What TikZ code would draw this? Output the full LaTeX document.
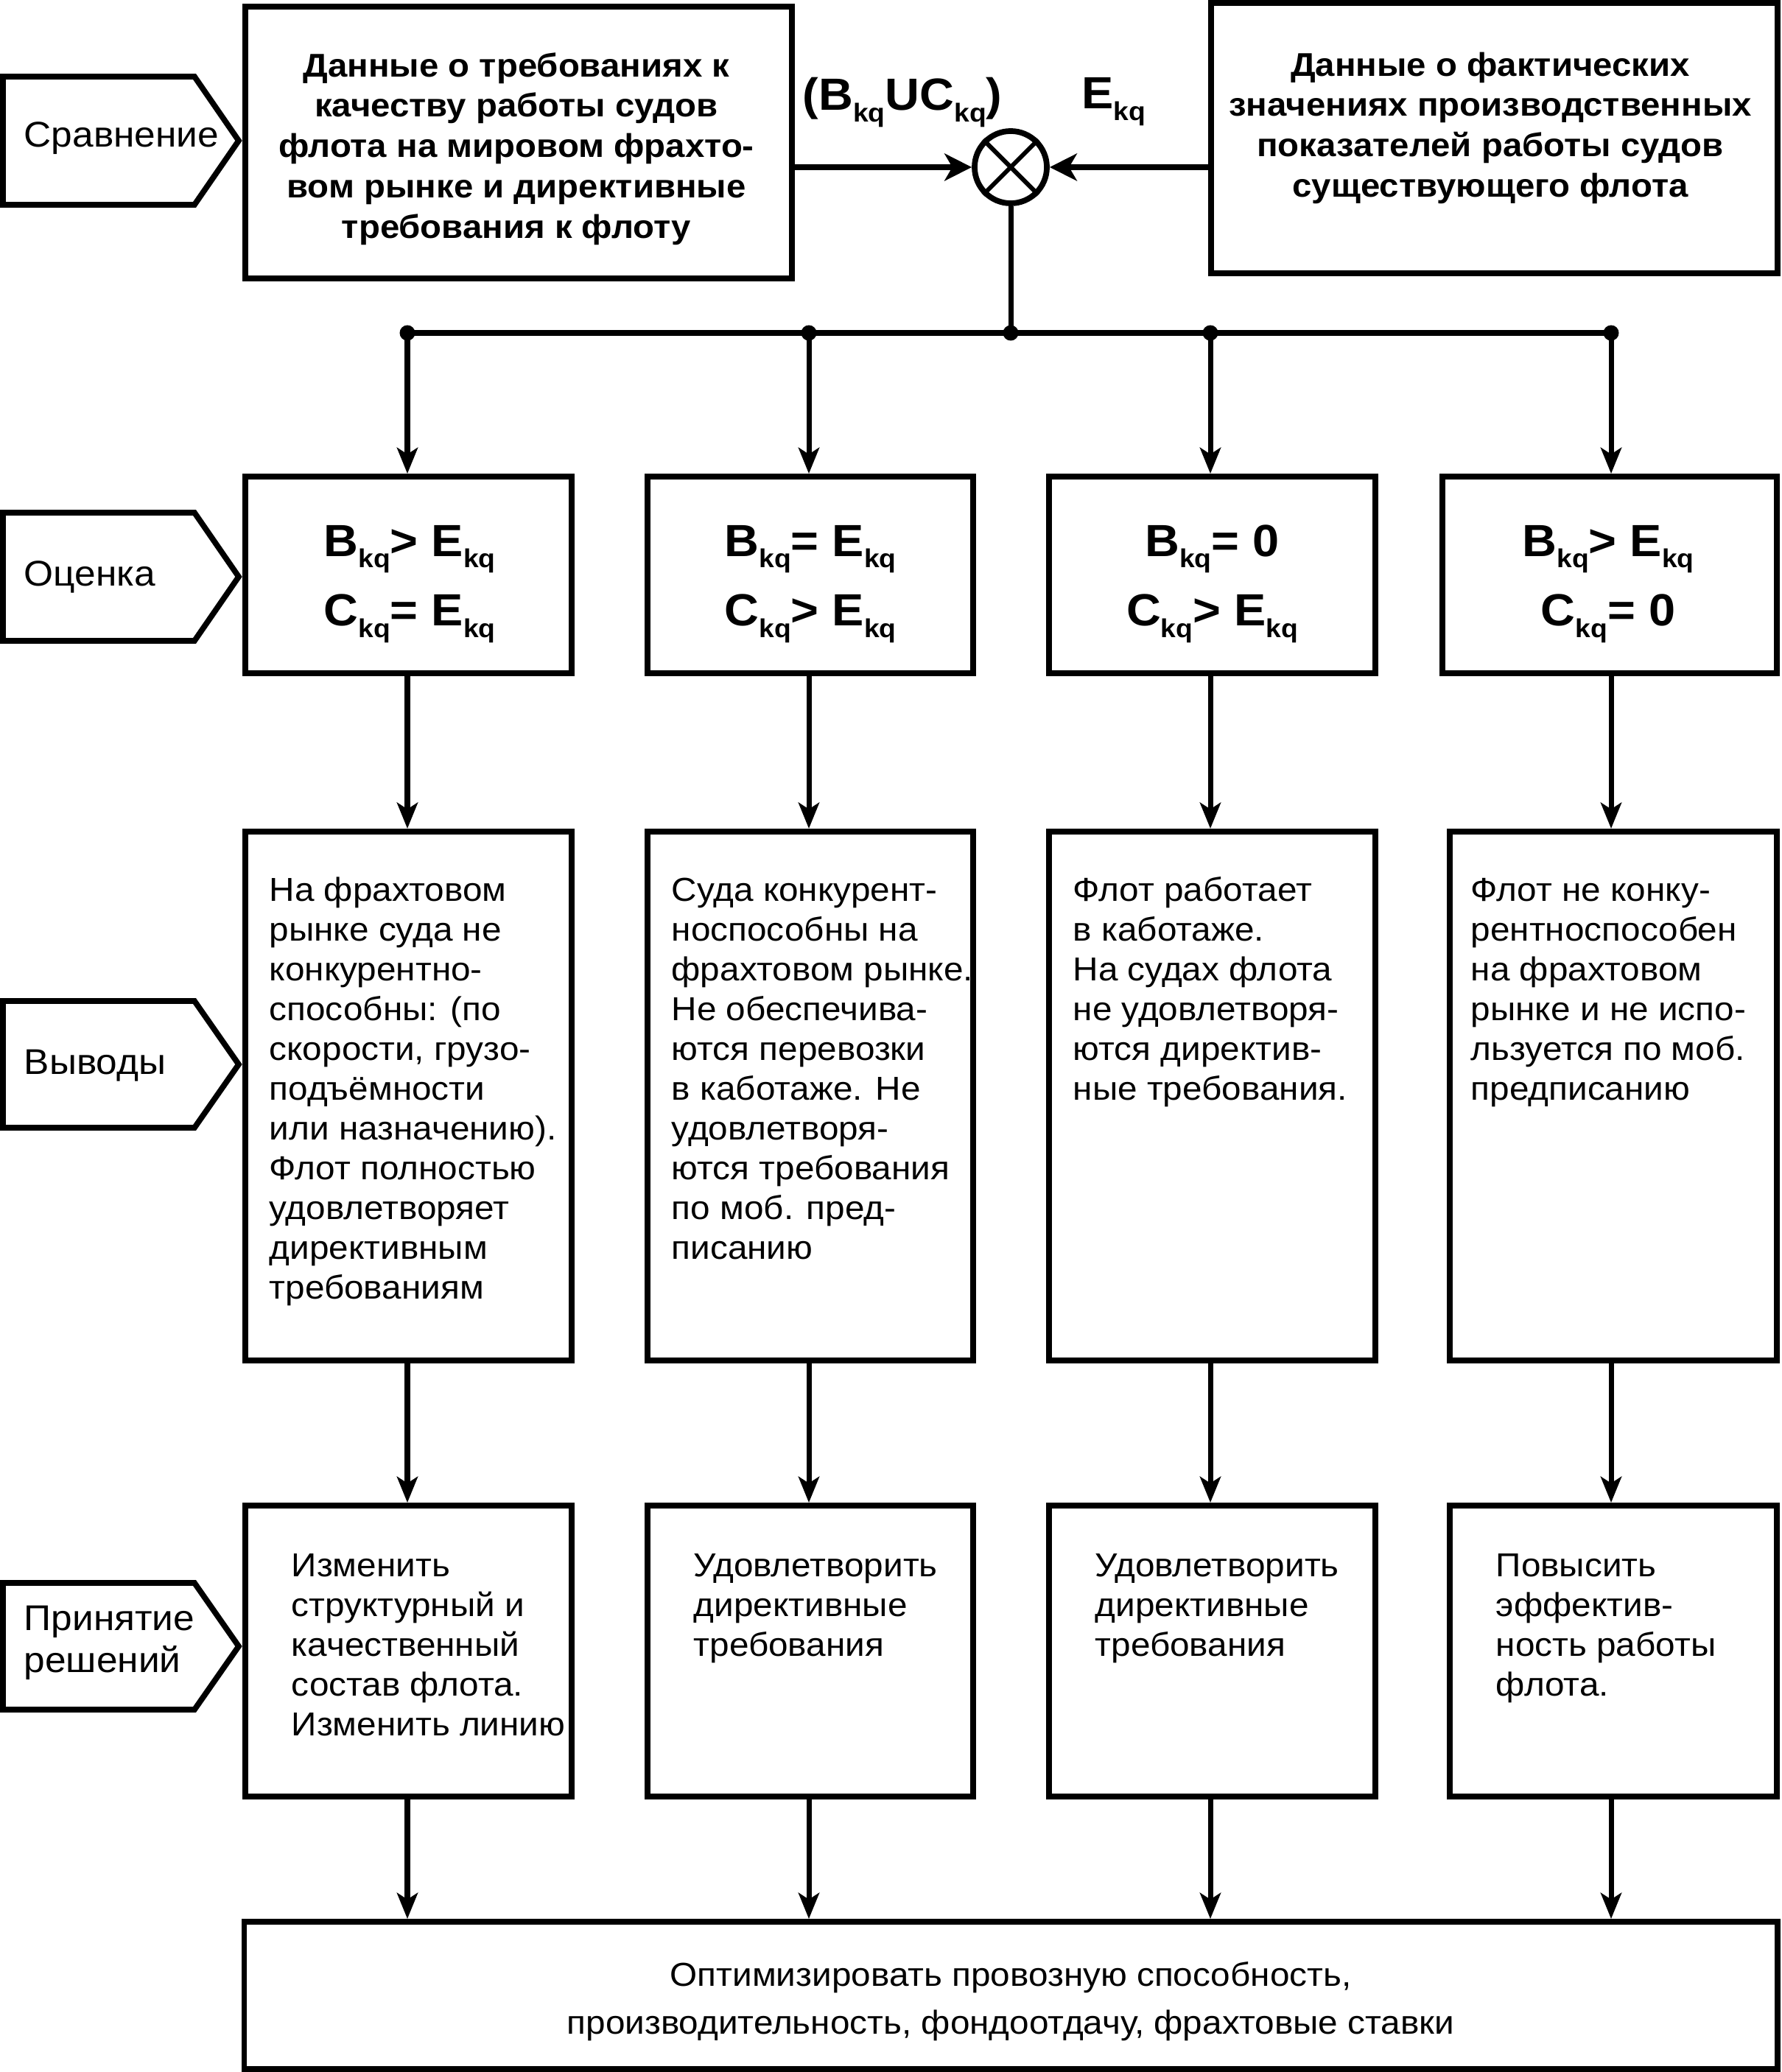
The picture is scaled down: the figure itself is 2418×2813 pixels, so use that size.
\documentclass[tikz,border=0pt]{standalone}
\usepackage{fontspec}
\setmainfont{Liberation Sans}[FakeStretch=1.06]
\usetikzlibrary{arrows.meta}
\newcommand\kq{\raisebox{-4.3pt}{\fontsize{10}{10}\selectfont kq}}
\begin{document}
\begin{tikzpicture}[x=0.01cm,y=-0.01cm,
  box/.style={draw, line width=2.2pt, rectangle, inner sep=0pt},
  conn/.style={line width=2pt},
  arr/.style={conn, -{Stealth[length=10pt,width=8pt,inset=2.5pt]}},
  arrh/.style={conn, -{Stealth[length=10.5pt,width=10.5pt,inset=3pt]}},
  pent/.style={draw, line width=2.2pt, line join=miter},
  body/.style={inner sep=0pt, font=\fontsize{12.8}{15.36}\selectfont, align=left},
  head/.style={inner sep=0pt, font=\bfseries\fontsize{12.7}{15.6}\selectfont, align=center},
  foot/.style={inner sep=0pt, font=\fontsize{12.8}{18.5}\selectfont, align=center},
  eq/.style={inner sep=0pt, font=\bfseries\fontsize{17.4}{20}\selectfont},
  lab/.style={inner sep=0pt, font=\fontsize{13.8}{16.2}\selectfont, align=left}
]
\useasboundingbox (0,0) rectangle (2418,2813);

% top boxes
\node[box, minimum width=7.42cm, minimum height=3.69cm] (T1) at (704,193.5) {};
\node[box, minimum width=7.69cm, minimum height=3.67cm] (T2) at (2028.5,187.5) {};
\node[head, anchor=north] (T1t) at (701,65) {\strut Данные о требованиях к\\качеству работы судов\\флота на мировом фрахто-\\вом рынке и директивные\\требования к флоту};
\node[head, anchor=north] (T2t) at (2023,64) {\strut Данные о фактических\\значениях производственных\\показателей работы судов\\существующего флота};

% summing junction
\node[draw, circle, line width=2.2pt, minimum size=0.98cm, inner sep=0pt] (sum) at (1372,227) {};
\draw[line width=1.7pt] (sum.north west) -- (sum.south east) (sum.north east) -- (sum.south west);
\node[eq, anchor=base] (lblB) at (1225,150) {(B\kq UC\kq)};
\node[eq, anchor=base] (lblE) at (1512,148) {E\kq};
\draw[arrh] (T1.east |- sum.west) -- (sum.west);
\draw[arrh] (T2.west |- sum.east) -- (sum.east);

% distribution
\coordinate (j1) at (553,452);
\coordinate (j2) at (1098,452);
\coordinate (j3) at (1372,452);
\coordinate (j4) at (1643,452);
\coordinate (j5) at (2187,452);
\draw[conn] (sum.south) -- (j3);
\draw[conn] (j1) -- (j5);
\foreach \j in {j1,j2,j3,j4,j5} \fill (\j) circle[radius=0.105cm];

% row 1
\node[box, minimum width=4.43cm, minimum height=2.67cm] (B1) at (554.5,780.5) {};
\node[box, minimum width=4.42cm, minimum height=2.67cm] (B2) at (1100,780.5) {};
\node[box, minimum width=4.43cm, minimum height=2.67cm] (B3) at (1645.5,780.5) {};
\node[box, minimum width=4.54cm, minimum height=2.67cm] (B4) at (2185,780.5) {};
\node[eq, anchor=base] (B1a) at (556,755) {B\kq> E\kq};
\node[eq, anchor=base] (B1b) at (556,850) {C\kq= E\kq};
\node[eq, anchor=base] (B2a) at (1100,755) {B\kq= E\kq};
\node[eq, anchor=base] (B2b) at (1100,850) {C\kq> E\kq};
\node[eq, anchor=base] (B3a) at (1645.5,755) {B\kq= 0};
\node[eq, anchor=base] (B3b) at (1645.5,850) {C\kq> E\kq};
\node[eq, anchor=base] (B4a) at (2183,755) {B\kq> E\kq};
\node[eq, anchor=base] (B4b) at (2183,850) {C\kq= 0};

% row 2
\node[box, minimum width=4.43cm, minimum height=7.18cm] (R2a) at (554.5,1488) {};
\node[box, minimum width=4.42cm, minimum height=7.18cm] (R2b) at (1100,1488) {};
\node[box, minimum width=4.43cm, minimum height=7.18cm] (R2c) at (1645.5,1488) {};
\node[box, minimum width=4.44cm, minimum height=7.18cm] (R2d) at (2190,1488) {};
\path (R2a.north west) ++(36,60) node[body, anchor=north west] (R2at) {\strut На фрахтовом\\рынке суда не\\конкурентно-\\способны: (по\\скорости, грузо-\\подъёмности\\или назначению).\\Флот полностью\\удовлетворяет\\директивным\\требованиям};
\path (R2b.north west) ++(36,60) node[body, anchor=north west] (R2bt) {\strut Суда конкурент-\\носпособны на\\фрахтовом рынке.\\Не обеспечива-\\ются перевозки\\в каботаже. Не\\удовлетворя-\\ются требования\\по моб. пред-\\писанию};
\path (R2c.north west) ++(36,60) node[body, anchor=north west] (R2ct) {\strut Флот работает\\в каботаже.\\На судах флота\\не удовлетворя-\\ются директив-\\ные требования.};
\path (R2d.north west) ++(32,60) node[body, anchor=north west] (R2dt) {\strut Флот не конку-\\рентноспособен\\на фрахтовом\\рынке и не испо-\\льзуется по моб.\\предписанию};

% row 3
\node[box, minimum width=4.43cm, minimum height=3.95cm] (R3a) at (554.5,2241.5) {};
\node[box, minimum width=4.42cm, minimum height=3.95cm] (R3b) at (1100,2241.5) {};
\node[box, minimum width=4.43cm, minimum height=3.95cm] (R3c) at (1645.5,2241.5) {};
\node[box, minimum width=4.44cm, minimum height=3.95cm] (R3d) at (2190,2241.5) {};
\path (R3a.north west) ++(66,62) node[body, anchor=north west] (R3at) {\strut Изменить\\структурный и\\качественный\\состав флота.\\Изменить линию};
\path (R3b.north west) ++(66,62) node[body, anchor=north west] (R3bt) {\strut Удовлетворить\\директивные\\требования};
\path (R3c.north west) ++(66,62) node[body, anchor=north west] (R3ct) {\strut Удовлетворить\\директивные\\требования};
\path (R3d.north west) ++(66,62) node[body, anchor=north west] (R3dt) {\strut Повысить\\эффектив-\\ность работы\\флота.};

% final box
\node[box, minimum width=20.80cm, minimum height=2.00cm] (F) at (1372,2709) {};
\node[foot, anchor=north] (Ft) at (1372,2650) {\strut Оптимизировать провозную способность,\\производительность, фондоотдачу, фрахтовые ставки};

% vertical arrows
\draw[arr] (j1) -- (j1 |- B1.north);
\draw[arr] (j2) -- (j2 |- B2.north);
\draw[arr] (j4) -- (j4 |- B3.north);
\draw[arr] (j5) -- (j5 |- B4.north);
\draw[arr] (j1 |- B1.south) -- (j1 |- R2a.north);
\draw[arr] (j2 |- B2.south) -- (j2 |- R2b.north);
\draw[arr] (j4 |- B3.south) -- (j4 |- R2c.north);
\draw[arr] (j5 |- B4.south) -- (j5 |- R2d.north);
\draw[arr] (j1 |- R2a.south) -- (j1 |- R3a.north);
\draw[arr] (j2 |- R2b.south) -- (j2 |- R3b.north);
\draw[arr] (j4 |- R2c.south) -- (j4 |- R3c.north);
\draw[arr] (j5 |- R2d.south) -- (j5 |- R3d.north);
\draw[arr] (j1 |- R3a.south) -- (j1 |- F.north);
\draw[arr] (j2 |- R3b.south) -- (j2 |- F.north);
\draw[arr] (j4 |- R3c.south) -- (j4 |- F.north);
\draw[arr] (j5 |- R3d.south) -- (j5 |- F.north);

% stage labels
\draw[pent] (4,104) -- (264,104) -- (324,191) -- (264,278) -- (4,278) -- cycle;
\draw[pent] (4,696) -- (264,696) -- (324,783) -- (264,870) -- (4,870) -- cycle;
\draw[pent] (4,1359) -- (264,1359) -- (324,1445) -- (264,1531) -- (4,1531) -- cycle;
\draw[pent] (4,2149) -- (264,2149) -- (324,2235) -- (264,2321) -- (4,2321) -- cycle;
\node[lab, anchor=base west] (L1) at (32,200) {Сравнение};
\node[lab, anchor=base west] (L2) at (32,795) {Оценка};
\node[lab, anchor=base west] (L3) at (32,1458) {Выводы};
\node[lab, anchor=north west] (L4) at (32,2173) {\strut Принятие\\решений};
\end{tikzpicture}
\end{document}
